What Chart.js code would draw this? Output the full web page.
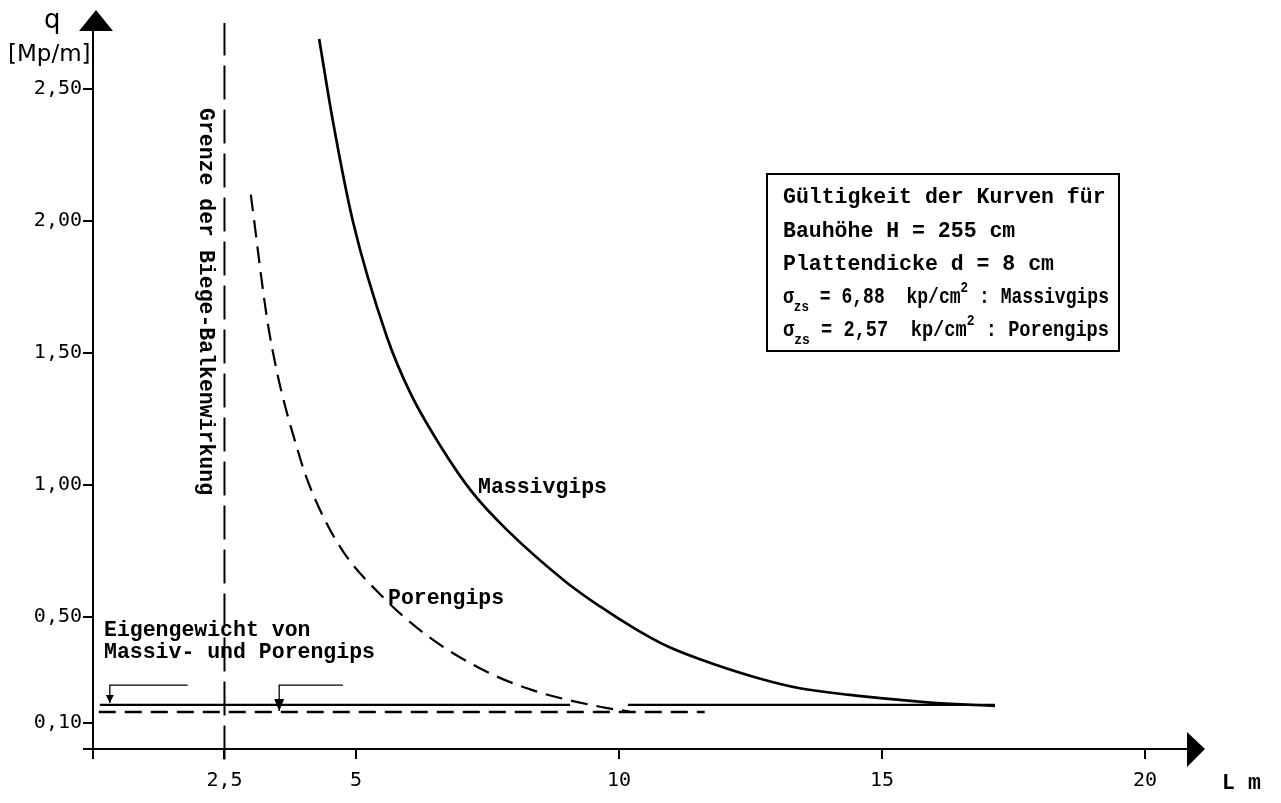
<!DOCTYPE html>
<html>
<head>
<meta charset="utf-8">
<script src="https://cdn.jsdelivr.net/npm/chart.js@4/dist/chart.umd.min.js"></script>
<style>
  html, body { margin: 0; padding: 0; background: #fff; }
  #wrap { width: 1281px; height: 803px; }
</style>
</head>
<body>
<div id="wrap"><canvas id="chart" width="1281" height="803"></canvas></div>
<script>
// Spannweite L [m] und zulaessige Last q [Mp/m]
const massivL = [4.30, 4.56, 4.94, 5.59, 6.03, 6.60, 7.22, 7.87, 9.01, 9.64, 10.27, 10.91, 11.54, 12.62, 13.44, 14.39, 15.34, 15.97, 17.15];
const massivQ = [2.69, 2.38, 2.00, 1.56, 1.35, 1.15, 0.97, 0.83, 0.63, 0.54, 0.46, 0.39, 0.34, 0.27, 0.23, 0.205, 0.186, 0.175, 0.163];

const porenL = [3.00, 3.35, 3.94, 4.26, 4.75, 5.51, 6.35, 7.41, 8.37, 9.64, 10.20];
const porenQ = [2.10, 1.58, 1.10, 0.93, 0.75, 0.576, 0.43, 0.30, 0.222, 0.16, 0.142];

// Eigengewicht (waagerechte Linien)
const eigenMassivL = [0.13, 9.07, 9.6, 10.17, 17.15];
const eigenMassivQ = [0.167, 0.167, null, 0.167, 0.167];
const eigenPorenL = [0.11, 11.63];
const eigenPorenQ = [0.140, 0.140];

// Grenze der Biege-Balkenwirkung
const grenzeL = [2.5, 2.5];
const grenzeQ = [-0.04, 2.75];

// Hinweispfeile "Eigengewicht"
const pfeil1L = [1.80, 0.32, 0.32];
const pfeil1Q = [0.242, 0.242, 0.174];
const pfeil2L = [4.75, 3.54, 3.54];
const pfeil2Q = [0.242, 0.242, 0.144];

const xTicks = [0, 2.5, 5, 10, 15, 20];
const xTickLabels = ['', '2,5', '5', '10', '15', '20'];
const yTicks = [0, 0.10, 0.50, 1.00, 1.50, 2.00, 2.50];
const yTickLabels = ['', '0,10', '0,50', '1,00', '1,50', '2,00', '2,50'];

function pts(xs, ys) {
  return xs.map((x, i) => ({ x: x, y: ys[i] }));
}

const TYPE = 'bold 21.5px "Liberation Mono", "Courier New", monospace';
const TYPE_SMALL = 'bold 15px "Liberation Mono", "Courier New", monospace';

const decorations = {
  id: 'decorations',
  afterDraw(chart) {
    const ctx = chart.ctx;
    const a = chart.chartArea;
    ctx.save();
    ctx.fillStyle = '#000';
    ctx.strokeStyle = '#000';

    // Pfeilspitzen der Achsen
    ctx.beginPath();
    ctx.moveTo(a.left + 3, a.top - 21);
    ctx.lineTo(a.left - 14, a.top);
    ctx.lineTo(a.left + 20, a.top);
    ctx.closePath();
    ctx.fill();

    ctx.beginPath();
    ctx.moveTo(a.right + 18, a.bottom);
    ctx.lineTo(a.right, a.bottom - 17);
    ctx.lineTo(a.right, a.bottom + 18);
    ctx.closePath();
    ctx.fill();

    // Spitzen der Hinweispfeile
    [[5, 4, 8], [6, 5, 12]].forEach(([idx, hw, h]) => {
      const els = chart.getDatasetMeta(idx).data;
      const p = els[els.length - 1];
      ctx.beginPath();
      ctx.moveTo(p.x, p.y);
      ctx.lineTo(p.x - hw, p.y - h);
      ctx.lineTo(p.x + hw, p.y - h);
      ctx.closePath();
      ctx.fill();
    });

    // Achsenbeschriftung
    ctx.textBaseline = 'alphabetic';
    ctx.textAlign = 'left';
    ctx.font = '26px "DejaVu Sans", sans-serif';
    ctx.fillText('q', 44, 28);
    ctx.font = '23px "DejaVu Sans", sans-serif';
    ctx.fillText('[Mp/m]', 8, 61);

    ctx.font = TYPE;
    ctx.fillText('L', 1222, 789);
    ctx.fillText('m', 1248, 789);

    // Kurvenbeschriftung
    ctx.fillText('Massivgips', 478, 493);
    ctx.fillText('Porengips', 388, 604);
    ctx.fillText('Eigengewicht von', 104, 636);
    ctx.fillText('Massiv- und Porengips', 104, 658);

    // senkrechter Text
    ctx.save();
    ctx.translate(200, 108);
    ctx.rotate(Math.PI / 2);
    ctx.fillText('Grenze der Biege-Balkenwirkung', 0, 0);
    ctx.restore();

    // Kasten
    ctx.lineWidth = 2;
    ctx.strokeRect(767, 174, 352, 177);
    ctx.fillText('Gültigkeit der Kurven für', 783, 203);
    ctx.fillText('Bauhöhe H = 255 cm', 783, 237);
    ctx.fillText('Plattendicke d = 8 cm', 783, 270);

    function sigmaLine(y, wert, stoff) {
      const parts = [
        ['σ', TYPE, 0],
        ['zs', TYPE_SMALL, 8],
        [' = ' + wert + '  kp/cm', TYPE, 0],
        ['2', TYPE_SMALL, -11],
        [' : ' + stoff, TYPE, 0]
      ];
      let w = 0;
      parts.forEach(p => { ctx.font = p[1]; w += ctx.measureText(p[0]).width; });
      const k = Math.min(1, 326 / w);
      ctx.save();
      ctx.translate(783, y);
      ctx.scale(k, 1);
      let x = 0;
      parts.forEach(p => {
        ctx.font = p[1];
        ctx.fillText(p[0], x, p[2]);
        x += ctx.measureText(p[0]).width;
      });
      ctx.restore();
    }
    sigmaLine(303, '6,88', 'Massivgips');
    sigmaLine(336, '2,57', 'Porengips');

    ctx.restore();
  }
};

const solid = { borderColor: '#000', pointRadius: 0, fill: false };

new Chart(document.getElementById('chart'), {
  type: 'line',
  data: {
    datasets: [
      Object.assign({ label: 'Massivgips', data: pts(massivL, massivQ), borderWidth: 2.7, cubicInterpolationMode: 'monotone' }, solid),
      Object.assign({ label: 'Porengips', data: pts(porenL, porenQ), borderWidth: 2.2, borderDash: [17, 9], cubicInterpolationMode: 'monotone' }, solid),
      Object.assign({ label: 'Eigengewicht Massivgips', data: pts(eigenMassivL, eigenMassivQ), borderWidth: 2.4, spanGaps: false }, solid),
      Object.assign({ label: 'Eigengewicht Porengips', data: pts(eigenPorenL, eigenPorenQ), borderWidth: 2.4, borderDash: [17, 9] }, solid),
      Object.assign({ label: 'Grenze', data: pts(grenzeL, grenzeQ), borderWidth: 2, borderDash: [34, 10], clip: false }, solid),
      Object.assign({ label: 'Pfeil 1', data: pts(pfeil1L, pfeil1Q), borderWidth: 1.3 }, solid),
      Object.assign({ label: 'Pfeil 2', data: pts(pfeil2L, pfeil2Q), borderWidth: 1.3 }, solid)
    ]
  },
  options: {
    responsive: false,
    animation: false,
    devicePixelRatio: 1,
    layout: { padding: { left: 0, right: 94, top: 31, bottom: 0 } },
    plugins: { legend: { display: false }, tooltip: { enabled: false } },
    scales: {
      x: {
        type: 'linear',
        min: 0,
        max: 20.8,
        afterFit: s => { s.height = 54; },
        afterBuildTicks: s => { s.ticks = xTicks.map(v => ({ value: v })); },
        grid: { drawOnChartArea: false, drawTicks: true, tickLength: 10, color: '#000', lineWidth: 2 },
        border: { display: true, color: '#000', width: 2 },
        ticks: {
          autoSkip: false,
          maxRotation: 0,
          padding: 10,
          color: '#000',
          font: { family: '"DejaVu Sans Mono", monospace', size: 20 },
          callback: (v, i) => xTickLabels[i]
        }
      },
      y: {
        type: 'linear',
        min: 0,
        max: 2.72,
        afterFit: s => { s.width = 93; },
        afterBuildTicks: s => { s.ticks = yTicks.map(v => ({ value: v })); },
        grid: { drawOnChartArea: false, drawTicks: true, tickLength: 10, color: '#000', lineWidth: 2 },
        border: { display: true, color: '#000', width: 2 },
        ticks: {
          autoSkip: false,
          padding: 1,
          color: '#000',
          font: { family: '"DejaVu Sans Mono", monospace', size: 20 },
          callback: (v, i) => yTickLabels[i]
        }
      }
    }
  },
  plugins: [decorations]
});
</script>
</body>
</html>
